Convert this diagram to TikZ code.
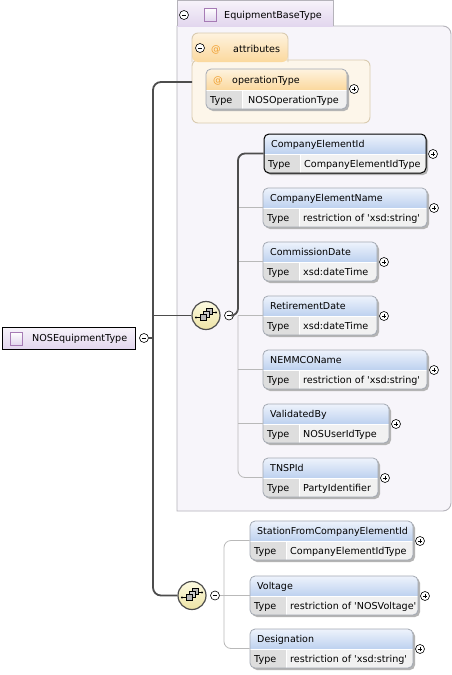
\documentclass[tikz,border=0pt]{standalone}
\usepackage{fontspec}
\setmainfont{DejaVu Sans}
\usetikzlibrary{calc}
\definecolor{hdtop}{HTML}{EEF3FC}
\definecolor{hdbot}{HTML}{BDD1EF}
\definecolor{typec}{HTML}{DEDEDE}
\definecolor{valc}{HTML}{F1F1F1}
\definecolor{bordc}{HTML}{A3A9B3}
\definecolor{shadowc}{HTML}{B4B4B4}
\definecolor{ortop}{HTML}{FEF3DF}
\definecolor{orbot}{HTML}{FBD89D}
\definecolor{orbody}{HTML}{FDF6EA}
\definecolor{orbord}{HTML}{D9CBB0}
\definecolor{atc}{HTML}{F0A030}
\definecolor{lvtop}{HTML}{F7F3FA}
\definecolor{lvbot}{HTML}{E2D6EE}
\definecolor{lvbody}{HTML}{F7F5FA}
\definecolor{lvbord}{HTML}{B5B3BA}
\definecolor{sqbord}{HTML}{A67BB5}
\definecolor{darkln}{HTML}{4D4D4D}
\definecolor{grayln}{HTML}{B9B9B9}
\definecolor{yltop}{HTML}{FCFAE0}
\definecolor{ylbot}{HTML}{EEE4A6}
\tikzset{
  pmbase/.style={circle, draw=black, line width=0.6, fill=white, minimum size=9, inner sep=0},
  plusc/.style={pmbase, path picture={
      \draw[line width=0.7] ($(path picture bounding box.center)+(-2.3,0)$) -- ++(4.6,0);
      \draw[line width=0.7] ($(path picture bounding box.center)+(0,-2.3)$) -- ++(0,4.6);}},
  minusc/.style={pmbase, path picture={
      \draw[line width=0.7] ($(path picture bounding box.center)+(-2.3,0)$) -- ++(4.6,0);}},
  seqc/.style={circle, draw=darkln, line width=1.2, minimum size=28, inner sep=0,
      top color=yltop, bottom color=ylbot},
  darkc/.style={draw=darkln, line width=1.8},
  grayc/.style={draw=grayln, line width=0.8},
  txt/.style={anchor=base west, inner sep=0},
  hdtxt/.style={txt, font=\fontsize{9.5}{11}\selectfont},
  sqicon/.style={draw=sqbord, line width=0.8, top color=white, bottom color=lvbot},
}
\newcommand\xelem[7]{%
  \fill[shadowc, rounded corners=5] ({#2+2},{#3+2}) rectangle ({#2+#4+2},{#3+41});
  \begin{scope}
    \clip[rounded corners=5] (#2,#3) rectangle ({#2+#4},{#3+39});
    \shade[top color=hdtop, bottom color=hdbot] (#2,#3) rectangle ({#2+#4},{#3+20});
    \fill[typec] (#2,{#3+20}) rectangle ({#2+36},{#3+39});
    \fill[valc] ({#2+36},{#3+20}) rectangle ({#2+#4},{#3+39});
    \draw[white, line width=0.8] (#2,{#3+20}) -- ({#2+#4},{#3+20});
    \draw[white, line width=0.8] ({#2+36},{#3+20}) -- ({#2+36},{#3+39});
  \end{scope}
  \node[inner sep=0, minimum width=#4, minimum height=39, draw=bordc, line width=0.8, rounded corners=5, #7] (#1) at ({#2+#4/2},{#3+19.5}) {};
  \node[hdtxt] at ({#2+7},{#3+13.5}) {#5};
  \node[txt] at ({#2+4},{#3+33}) {Type};
  \node[txt] at ({#2+40},{#3+33}) {#6};
  \node[plusc] (#1p) at ({#2+#4+7},{#3+20}) {};
}
\newcommand\seqicon[2]{%
  \draw[line width=0.7] ({#1-10},{#2+2}) -- ({#1-4},{#2+2});
  \fill ({#1-10},{#2+2}) circle (1.1);
  \draw[line width=0.7] ({#1+4},{#2-3}) -- ({#1+10},{#2-3});
  \fill ({#1+10},{#2-3}) circle (1.1);
  \filldraw[fill=gray!55, draw=black, line width=0.5] ({#1+0.5},{#2-7}) rectangle ++(6,6);
  \filldraw[fill=gray!40, draw=black, line width=0.5] ({#1-2.5},{#2-4}) rectangle ++(6,6);
  \filldraw[fill=gray!55, draw=black, line width=0.5] ({#1-5.5},{#2-1}) rectangle ++(6,6);
}
\begin{document}
\begin{tikzpicture}[x=1pt,y=-1pt, font=\fontsize{9.6}{11}\selectfont]
\useasboundingbox (0,0) rectangle (452,675);
\fill[white] (0,0) rectangle (452,675);

% ---------- EquipmentBaseType ----------
\filldraw[draw=lvbord, fill=lvbody, line width=0.9] (177,26) -- (443,26)
  arc[start angle=-90, end angle=0, radius=8] -- (451,503)
  arc[start angle=0, end angle=90, radius=8] -- (177,511) -- cycle;
\shade[top color=lvtop, bottom color=lvbot] (177,0) rectangle (333,26.4);
\draw[draw=lvbord, line width=0.9] (177,26) -- (177,0) -- (333,0) -- (333,26);
\node[minusc] (basem) at (184,15) {};
\draw[sqicon] (204,8) rectangle (216,21);
\node[txt] (base) at (224,18.5) {EquipmentBaseType};

% ---------- attributes ----------
\filldraw[draw=orbord, fill=orbody, line width=0.9, rounded corners=6] (192,60) rectangle (370,123);
\shade[top color=ortop, bottom color=orbot, rounded corners=6] (192,33) -- (288,33) -- (288,62) -- (192,62) -- cycle;
\draw[draw=orbord, line width=0.9, rounded corners=6] (192,62) -- (192,33) -- (288,33) -- (288,62);
\node[inner sep=0, minimum width=178, minimum height=61] (attrbody) at (281,92.5) {};
\node[minusc] (attrm) at (200,48) {};
\node[txt, text=atc] at (211,52) {@};
\node[txt] (attr) at (233,52) {attributes};

% operationType
\fill[shadowc, rounded corners=5] (208,71) rectangle (349,111);
\begin{scope}
  \clip[rounded corners=5] (206,69) rectangle (347,109);
  \shade[top color=ortop, bottom color=orbot] (206,69) rectangle (347,90);
  \fill[typec] (206,90) rectangle (242,109);
  \fill[valc] (242,90) rectangle (347,109);
  \draw[white, line width=0.8] (206,90) -- (347,90);
  \draw[white, line width=0.8] (242,90) -- (242,109);
\end{scope}
\node[inner sep=0, minimum width=141, minimum height=40, draw=bordc, line width=0.8, rounded corners=5] (optype) at (276.5,89) {};
\node[txt, text=atc] at (213,83) {@};
\node[hdtxt] at (232,83) {operationType};
\node[txt] at (210,103) {Type};
\node[txt] at (248,103) {NOSOperationType};
\node[plusc] (optypep) at (354,89) {};

% ---------- first sequence elements ----------
\xelem{ceid}{264}{134}{162}{CompanyElementId}{CompanyElementIdType}{draw=black, line width=1}
\xelem{cename}{263}{188}{164}{CompanyElementName}{restriction of \textquotesingle xsd:string\textquotesingle}{}
\xelem{comm}{263}{242}{114}{CommissionDate}{xsd:dateTime}{}
\xelem{ret}{263}{296}{114}{RetirementDate}{xsd:dateTime}{}
\xelem{nemmco}{263}{350}{164}{NEMMCOName}{restriction of \textquotesingle xsd:string\textquotesingle}{}
\xelem{valid}{263}{404}{126}{ValidatedBy}{NOSUserIdType}{}
\xelem{tnsp}{263}{458}{115}{TNSPId}{PartyIdentifier}{}

% ---------- second sequence elements ----------
\xelem{station}{250}{521}{163}{StationFromCompanyElementId}{CompanyElementIdType}{}
\xelem{volt}{250}{576}{168}{Voltage}{restriction of \textquotesingle NOSVoltage\textquotesingle}{}
\xelem{desig}{250}{629}{163}{Designation}{restriction of \textquotesingle xsd:string\textquotesingle}{}

% ---------- root ----------
\node[draw=black, line width=0.9, top color=lvtop, bottom color=lvbot, minimum width=133, minimum height=22, inner sep=0] (root) at (68.5,338) {};
\draw[sqicon] (10,332) rectangle (22,345);
\node[txt] at (32,341.5) {NOSEquipmentType};
\node[minusc] (rootm) at (144,338) {};

% ---------- compositors ----------
\node[seqc] (seq1) at (206,315.5) {};
\seqicon{206}{315.5}
\node[minusc] (seq1m) at (229,315.5) {};
\node[seqc] (seq2) at (192,595.5) {};
\seqicon{192}{595.5}
\node[minusc] (seq2m) at (215,595.5) {};

% ---------- connectors ----------
\coordinate (trunk) at (153,338);
\coordinate (attrin) at (192,82);
\draw[darkc] (rootm.east) -- (trunk);
\draw[darkc, rounded corners=8] (attrin) -| (trunk) |- (seq2.west);
\draw[darkc] (trunk |- seq1.west) -- (seq1.west);

\coordinate (bus1) at (238,315.5);
\draw[grayc, rounded corners=7] (bus1) |- (tnsp.west);
\draw[grayc] (bus1 |- cename.west) -- (cename.west);
\draw[grayc] (bus1 |- comm.west) -- (comm.west);
\draw[grayc] (bus1 |- ret.west) -- (ret.west);
\draw[grayc] (bus1 |- nemmco.west) -- (nemmco.west);
\draw[grayc] (bus1 |- valid.west) -- (valid.west);
\draw[darkc, rounded corners=7] (seq1m.east) -- (bus1) |- (ceid.west);

\coordinate (bus2) at (224,595.5);
\draw[grayc] (seq2m.east) -- (bus2);
\draw[grayc, rounded corners=7] (station.west) -| (bus2) |- (desig.west);
\draw[grayc] (bus2) -- (volt.west);
\end{tikzpicture}
\end{document}
